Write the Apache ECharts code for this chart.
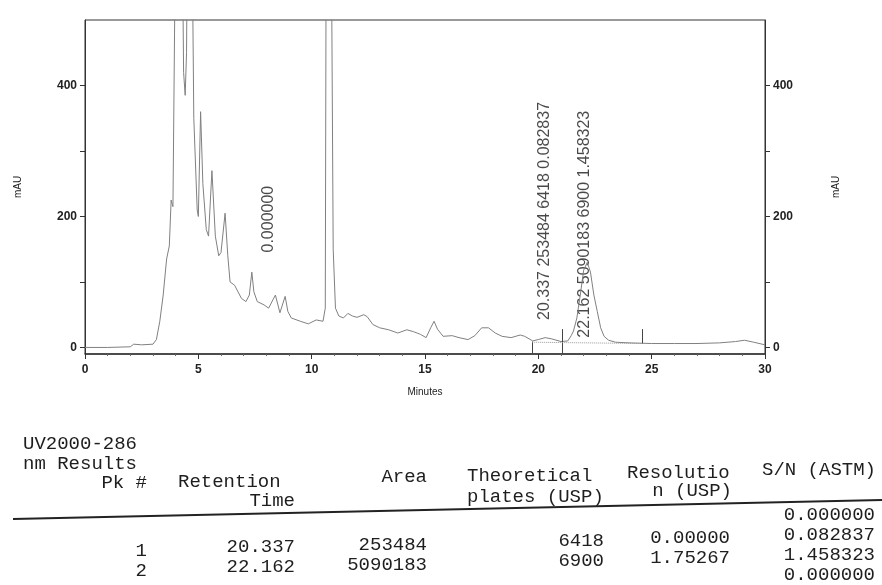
<!DOCTYPE html>
<html>
<head>
<meta charset="utf-8">
<script src="https://cdn.jsdelivr.net/npm/echarts@6.0.0/dist/echarts.min.js"></script>
<style>
  html, body { margin: 0; padding: 0; background: #fff; }
  #chromatogram { width: 882px; height: 585px; }
</style>
</head>
<body>
<div id="chromatogram"></div>
<script>
// chromatogram trace: [minutes, mAU]
const traceTime = [
  0, 1, 2, 2.15, 2.5, 3.0, 3.15, 3.3, 3.45, 3.6, 3.72, 3.8, 3.88, 3.95, 4.05, 4.25, 4.35, 4.42, 4.48, 4.55,
  4.68, 4.8, 4.95, 5.0, 5.1, 5.2, 5.35, 5.45, 5.6, 5.75, 5.9, 6.0, 6.18, 6.3, 6.4, 6.6, 6.9, 7.1, 7.25, 7.36,
  7.45, 7.6, 7.9, 8.1, 8.4, 8.6, 8.83, 8.95, 9.1, 9.5, 9.85, 10.2, 10.5, 10.6, 10.66, 10.82, 10.95, 11.05, 11.2, 11.4,
  11.6, 11.8, 12.0, 12.3, 12.45, 12.7, 13.0, 13.4, 13.8, 14.2, 14.5, 14.8, 15.05, 15.25, 15.4, 15.55, 15.8, 16.2, 16.5, 16.9,
  17.2, 17.5, 17.8, 18.1, 18.4, 18.8, 19.2, 19.4, 19.75, 20.0, 20.3, 20.6, 21.0, 21.3, 21.45, 21.55, 21.7, 21.85, 22.0, 22.16,
  22.3, 22.45, 22.6, 22.75, 22.9, 23.1, 23.4, 24.0, 25.0, 26.0, 27.0, 28.0, 28.7, 29.1, 29.5, 30.0
];
const traceMAU = [
  0, 0, 1, 5, 4, 5, 12, 40, 80, 135, 155, 225, 215, 480, 800, 800, 420, 385, 450, 800,
  800, 350, 210, 200, 360, 250, 180, 170, 270, 170, 140, 145, 205, 140, 100, 95, 75, 70, 80, 115,
  85, 70, 65, 60, 80, 53, 78, 55, 45, 40, 36, 42, 40, 60, 900, 900, 150, 60, 48, 45,
  52, 48, 46, 50, 47, 35, 30, 27, 22, 27, 24, 20, 15, 30, 40, 28, 17, 18, 15, 12,
  18, 30, 30, 22, 17, 15, 19, 17, 10, 12, 15, 13, 9, 10, 18, 25, 45, 80, 118, 130,
  115, 80, 55, 30, 17, 11, 8, 7, 6, 6, 6, 7, 9, 11, 8, 4
];

// vertical annotations printed over the peaks
const peakLabelTime = [8.1, 20.27, 22.03];
const peakLabelMAU = [145, 42, 15];
const peakLabelText = ['0.000000', '20.337 253484 6418 0.082837', '22.162 5090183 6900 1.458323'];

// integration marks: [minutes, from mAU, to mAU]
const peakMarks = [[19.73, 9, -9], [21.04, 28, -10], [24.6, 28, 6]];
const baselineTime = [19.73, 24.6];
const baselineMAU = [8, 6];

// y axis ticks
const yLabelValues = [0, 200, 400];
const yTickValues = [0, 100, 200, 300, 400];

// results table
const tableTitle = ['UV2000-286', 'nm Results'];
const headerTop = ['Pk #', 'Retention', 'Area', 'Theoretical', 'Resolutio', 'S/N (ASTM)'];
const headerBottom = ['', 'Time', '', 'plates (USP)', 'n (USP)', ''];
const pkNumbers = ['1', '2'];
const retentionTimes = ['20.337', '22.162'];
const areas = ['253484', '5090183'];
const plates = ['6418', '6900'];
const resolutions = ['0.00000', '1.75267'];
const snValues = ['0.000000', '0.082837', '1.458323', '0.000000'];

const trace = traceTime.map((t, i) => [t, traceMAU[i]]);
const labelPoints = peakLabelTime.map((t, i) => ({ value: [t, peakLabelMAU[i]], name: peakLabelText[i] }));

const markData = peakMarks.map(m => [{ coord: [m[0], m[1]] }, { coord: [m[0], m[2]] }]);
const baselineData = [[{ coord: [baselineTime[0], baselineMAU[0]] }, { coord: [baselineTime[1], baselineMAU[1]] }]];

// table layout (the scan is slightly tilted)
const monoFont = '19px "Liberation Mono", "DejaVu Sans Mono", monospace';
const tilt = 0.022;
function headY(row, x) { return 484 + 20 * row - tilt * (x - 147); }
function dataY(row, x) { return 530 + 20 * row - tilt * (x - 147); }
function cell(text, x, y, align) {
  return {
    type: 'text', silent: true,
    style: { text: text, x: x, y: y, align: align, verticalAlign: 'middle', font: monoFont, fill: '#1e1e1e' }
  };
}

const graphics = [];
tableTitle.forEach((t, i) => graphics.push(cell(t, 23, headY(i - 2, 80) - 2, 'left')));
// header: [x, align] for top and bottom lines
const headTopPos = [[147, 'right'], [178, 'left'], [427, 'right'], [467, 'left'], [627, 'left'], [762, 'left']];
const headBotPos = [[0, 'left'], [295, 'right'], [0, 'left'], [467, 'left'], [732, 'right'], [0, 'left']];
headerTop.forEach((t, i) => graphics.push(cell(t, headTopPos[i][0], headY(0, headTopPos[i][0] + 40), headTopPos[i][1])));
headerBottom.forEach((t, i) => {
  if (t) graphics.push(cell(t, headBotPos[i][0], headY(1, headBotPos[i][0]), headBotPos[i][1]));
});
graphics.push({
  type: 'line', silent: true,
  shape: { x1: 13, y1: 519, x2: 882, y2: 500 },
  style: { stroke: '#222', lineWidth: 2 }
});
const dataCols = [[pkNumbers, 147], [retentionTimes, 295], [areas, 427], [plates, 604], [resolutions, 730]];
dataCols.forEach(c => c[0].forEach((t, r) => graphics.push(cell(t, c[1], dataY(r + 1, c[1] - 30), 'right'))));
snValues.forEach((t, r) => graphics.push(cell(t, 875, dataY(r, 830), 'right')));

const axisText = { color: '#222', fontSize: 12, fontWeight: 'bold', fontFamily: 'Liberation Sans, Arial' };
const nameText = { color: '#222', fontSize: 10, fontFamily: 'Liberation Sans, Arial' };

function yAxisFor(pos, gap) {
  return {
    type: 'value', position: pos, min: -10, max: 500,
    name: 'mAU', nameLocation: 'middle', nameRotate: 90, nameGap: gap, nameTextStyle: nameText,
    axisLine: { show: true, lineStyle: { color: '#333', width: 1 } },
    axisTick: { show: true, length: 5, customValues: yTickValues, lineStyle: { color: '#333' } },
    axisLabel: { margin: 8, customValues: yLabelValues, ...axisText },
    splitLine: { show: false }
  };
}

const chart = echarts.init(document.getElementById('chromatogram'));
chart.setOption({
  animation: false,
  backgroundColor: '#fff',
  grid: { left: 85, right: 117, top: 20, bottom: 231, show: true, borderColor: '#333', borderWidth: 1 },
  xAxis: {
    type: 'value', min: 0, max: 30, interval: 5,
    name: 'Minutes', nameLocation: 'middle', nameGap: 33, nameTextStyle: nameText,
    axisLine: { show: true, onZero: false, lineStyle: { color: '#333', width: 1.5 } },
    axisTick: { show: true, length: 5, lineStyle: { color: '#333' } },
    minorTick: { show: true, splitNumber: 5, length: 2, lineStyle: { color: '#666' } },
    axisLabel: { margin: 10, ...axisText },
    splitLine: { show: false }
  },
  yAxis: [yAxisFor('left', 62), yAxisFor('right', 66)],
  series: [
    {
      name: 'UV2000-286 nm',
      type: 'line',
      data: trace,
      showSymbol: false,
      clip: true,
      lineStyle: { color: '#808080', width: 1 },
      markLine: {
        silent: true, symbol: 'none', label: { show: false },
        lineStyle: { color: '#444', width: 1, type: 'solid' },
        data: markData.concat(baselineData.map(d => [
          { coord: d[0].coord, lineStyle: { color: '#999', type: 'dotted' } }, d[1]
        ]))
      }
    },
    {
      name: 'labels',
      type: 'scatter',
      data: labelPoints,
      symbolSize: 0,
      silent: true,
      label: {
        show: true, position: 'inside', rotate: 90, align: 'left', verticalAlign: 'middle',
        formatter: p => p.name,
        color: '#1a1a1a', fontSize: 16, fontFamily: 'Liberation Sans, Arial'
      }
    }
  ],
  graphic: graphics
});
</script>
</body>
</html>
